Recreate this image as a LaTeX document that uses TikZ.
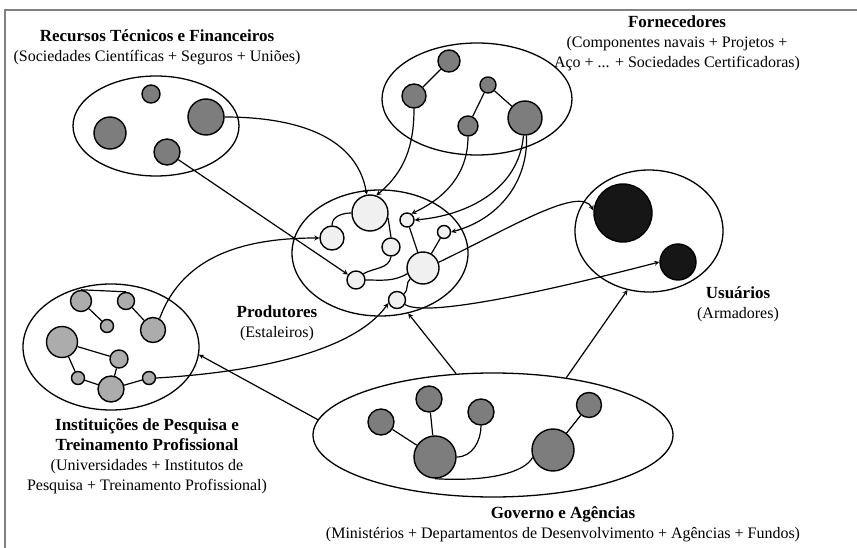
\documentclass[tikz,border=0pt]{standalone}
\usepackage{fontspec}
\setmainfont{Liberation Serif}
\usetikzlibrary{shapes.geometric, arrows, positioning, calc}
\definecolor{darkcolor}{RGB}{125,125,125}
\definecolor{instcolor}{RGB}{172,172,172}
\definecolor{prodcolor}{RGB}{240,240,240}
\definecolor{usercolor}{RGB}{22,22,22}
\newcommand{\grouptitle}[1]{{\fontsize{17}{20}\selectfont\bfseries #1}}

\begin{document}
\begin{tikzpicture}[
    x=1pt, y=-1pt,
    cluster/.style={ellipse, draw, line width=1.3pt, inner sep=0pt},
    member/.style={circle, draw, line width=1.4pt, inner sep=0pt, minimum size=#1},
    darkmember/.style={member=#1, fill=darkcolor},
    instmember/.style={member=#1, fill=instcolor},
    prodmember/.style={member=#1, fill=prodcolor},
    usermember/.style={member=#1, fill=usercolor},
    link/.style={line width=1.2pt},
    relation/.style={->, >=stealth, line width=1.2pt},
    grouplabel/.style={align=center, font=\fontsize{16}{20}\selectfont}
]
\useasboundingbox (0,0) rectangle (857,548);
\draw[gray, line width=1.5pt] (5,548) -- (5,10) -- (857,10);

\node[cluster, minimum width=166pt, minimum height=100pt] (recursos) at (156,126) {};
\node[cluster, minimum width=190pt, minimum height=112pt] (fornec) at (477,99) {};
\node[cluster, minimum width=176pt, minimum height=126pt] (prod) at (380,253) {};
\node[cluster, minimum width=148pt, minimum height=122pt] (usuarios) at (649,231) {};
\node[cluster, minimum width=176pt, minimum height=126pt] (inst) at (111,347) {};
\node[cluster, minimum width=360pt, minimum height=124pt] (gov) at (493,435) {};

\node[darkmember=18pt] (R1) at (151,94) {};
\node[darkmember=36pt] (R2) at (206,117) {};
\node[darkmember=32pt] (R3) at (110,133) {};
\node[darkmember=26pt] (R4) at (167,152) {};

\node[darkmember=22pt] (F1) at (449,61) {};
\node[darkmember=24pt] (F2) at (414,96) {};
\node[darkmember=16pt] (F3) at (488,85) {};
\node[darkmember=20pt] (F4) at (468,126) {};
\node[darkmember=34pt] (F5) at (525,118) {};

\node[prodmember=36pt] (P1) at (370,213) {};
\node[prodmember=24pt] (P2) at (332,238) {};
\node[prodmember=18pt] (P3) at (391,247) {};
\node[prodmember=14pt] (P4) at (407,220) {};
\node[prodmember=13pt] (P5) at (444,232) {};
\node[prodmember=32pt] (P6) at (423,268) {};
\node[prodmember=18pt] (P7) at (356,280) {};
\node[prodmember=17pt] (P8) at (397,300) {};

\node[usermember=58pt] (U1) at (623,213) {};
\node[usermember=36pt] (U2) at (678,262) {};

\node[instmember=21pt] (I1) at (81,301) {};
\node[instmember=17pt] (I2) at (126,301) {};
\node[instmember=13pt] (I3) at (107,326) {};
\node[instmember=25pt] (I4) at (153,330) {};
\node[instmember=31pt] (I5) at (62,342) {};
\node[instmember=18pt] (I6) at (119,359) {};
\node[instmember=13pt] (I7) at (78,378) {};
\node[instmember=26pt] (I8) at (111,389) {};
\node[instmember=13pt] (I9) at (149,378) {};

\node[darkmember=26pt] (G1) at (381,422) {};
\node[darkmember=26pt] (G2) at (429,399) {};
\node[darkmember=26pt] (G3) at (481,412) {};
\node[darkmember=25pt] (G4) at (589,405) {};
\node[darkmember=42pt] (G5) at (435,457) {};
\node[darkmember=42pt] (G6) at (553,450) {};

\node[grouplabel] (recursoslbl) at (157,47) {\grouptitle{Recursos Técnicos e Financeiros}\\(Sociedades Científicas + Seguros + Uniões)};
\node[grouplabel] (forneclbl) at (677,43) {\grouptitle{Fornecedores}\\(Componentes navais + Projetos +\\Aço + ... + Sociedades Certificadoras)};
\node[grouplabel] (usuarioslbl) at (738,304) {\grouptitle{Usuários}\\(Armadores)};
\node[grouplabel] (prodlbl) at (277,323) {\grouptitle{Produtores}\\(Estaleiros)};
\node[grouplabel] (instlbl) at (147,456) {\grouptitle{Instituições de Pesquisa e}\\\grouptitle{Treinamento Profissional}\\(Universidades + Institutos de\\Pesquisa + Treinamento Profissional)};
\node[grouplabel] (govlbl) at (563,524) {\grouptitle{Governo e Agências}\\(Ministérios + Departamentos de Desenvolvimento + Agências + Fundos)};

\draw[link] (F2) -- (F1);
\draw[link] (F3) -- (F4);
\draw[link] (F3) -- (F5);

\draw[link] (P2.north) to[out=90, in=180] (P1.west);
\draw[link] (P1.-15) -- (P3.north);
\draw[link] (P3.south) to[out=-100, in=30] (P7.40);
\draw[link] (P7.east) to[out=0, in=-150] (P6.-160);
\draw[link] (P4) -- (P6);
\draw[link] (P5) -- (P6);
\draw[link] (P8) to[out=40, in=-140] (P6);

\draw[link] (I1.north) -- (I2.north);
\draw[link] (I1) -- (I3);
\draw[link] (I2) -- (I4);
\draw[link] (I5) -- (I6);
\draw[link] (I5) -- (I7);
\draw[link] (I7) -- (I8);
\draw[link] (I6) -- (I8);
\draw[link] (I8) -- (I9);

\draw[link] (G1) -- (G5);
\draw[link] (G2) -- (G5);
\draw[link] (G3.south) to[out=-90, in=0] (G5.east);
\draw[link] (G5.south) .. controls (490,482) and (525,472) .. (G6.200);
\draw[link] (G4) -- (G6);

\draw[relation] (R2.east) to[out=0, in=100] (P1.100);
\draw[relation] (R4) -- (P7);
\draw[relation] (F2.south) to[out=-90, in=40] (P1.70);
\draw[relation] (F4.south) to[out=-90, in=25] (P4.55);
\draw[relation] (F5.-95) to[out=-95, in=5] (P4.east);
\draw[relation] (F5.-85) to[out=-88, in=15] (P5.east);
\draw[relation] (I4.60) to[out=70, in=180] (P2.west);
\draw[relation] (I9.east) .. controls (260,372) and (355,350) .. (P8.200);
\draw[relation] (P6.20) .. controls (510,228) and (580,185) .. (U1.175);
\draw[relation] (P8.-30) .. controls (430,320) and (590,280) .. (U2.west);
\draw[relation] (gov.121) -- (prod.-65);
\draw[relation] (gov.38) -- (usuarios.-110);
\draw[relation] (gov.175) -- (inst.-5);

\end{tikzpicture}
\end{document}
